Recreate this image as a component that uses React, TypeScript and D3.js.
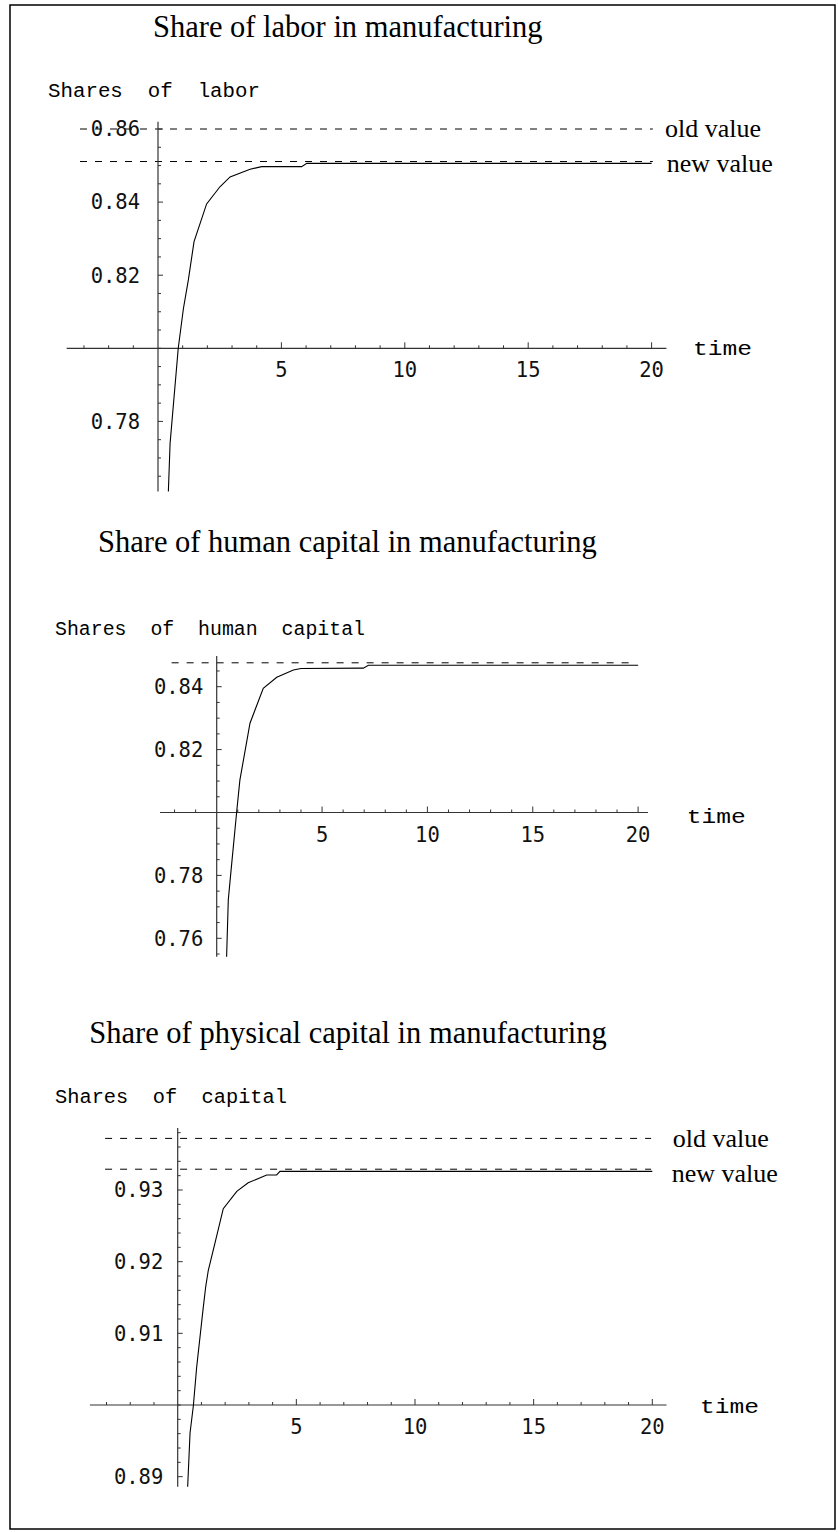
import React from 'react';
import * as d3 from 'd3';

const W = 838;
const H = 1532;

// ---------- Data: share of labor ----------
const laborTime = [0.42, 0.49, 0.82, 1.03, 1.23, 1.46, 1.97, 2.51, 2.92, 3.73, 4.2, 5.82, 6.03, 20];
const laborShare = [0.7608, 0.774, 0.8, 0.8109, 0.8187, 0.8292, 0.8395, 0.8442, 0.8469, 0.849, 0.8497, 0.8497, 0.8506, 0.8506];
const laborOld = 0.86;
const laborNew = 0.8511;
const laborYTicks = [0.78, 0.82, 0.84, 0.86];

// ---------- Data: share of human capital ----------
const humanTime = [0.47, 0.55, 0.66, 0.95, 1.1, 1.58, 2.21, 2.85, 3.64, 4.0, 6.96, 7.2, 20];
const humanShare = [0.7541, 0.7722, 0.7801, 0.8003, 0.8103, 0.8284, 0.8395, 0.843, 0.8453, 0.8458, 0.8459, 0.8468, 0.8468];
const humanNew = 0.8476;
const humanYTicks = [0.76, 0.78, 0.82, 0.84];

// ---------- Data: share of physical capital ----------
const capitalTime = [0.42, 0.52, 0.66, 0.8, 1.08, 1.18, 1.29, 1.57, 1.92, 2.49, 2.97, 3.75, 4.17, 4.31, 20];
const capitalShare = [0.8886, 0.8961, 0.8999, 0.9053, 0.9137, 0.9165, 0.9188, 0.9226, 0.9274, 0.9298, 0.931, 0.9321, 0.9321, 0.9326, 0.9326];
const capitalOld = 0.9372;
const capitalNew = 0.9329;
const capitalYTicks = [0.89, 0.91, 0.92, 0.93];

const xTickLabels = [5, 10, 15, 20];

type Cfg = {
  title: string;
  titleX: number;
  titleY: number;
  yLabel: string;
  yLabelX: number;
  yLabelY: number;
  yLabelW: number;
  timeX: number;
  timeY: number;
  xRange: [number, number];
  yDomain: [number, number];
  yRange: [number, number];
  xExtent: [number, number];
  yExtent: [number, number];
  yMinorStep: number;
  yMajor: number[];
  yLabelGap: number;
  times: number[];
  values: number[];
  refs: { v: number; label?: string; lx?: number; ly?: number }[];
  dashFrom: number;
  dashTo: number;
};

const SERIF = '"Liberation Serif", "Times New Roman", serif';
const MONO = '"Liberation Mono", "Courier New", monospace';
const NUM = '"DejaVu Sans Mono", monospace';

function Panel({ c }: { c: Cfg }) {
  const x = d3.scaleLinear().domain([0, 20]).range(c.xRange);
  const y = d3.scaleLinear().domain(c.yDomain).range(c.yRange);
  const axisY = y(c.yDomain[0]);
  const line = d3
    .line<number>()
    .x((_, i) => x(c.times[i]))
    .y((d) => y(d));

  const xMinor = d3.range(Math.ceil(c.xExtent[0]), 21).filter((t) => t !== 0);
  const nMin = Math.ceil(c.yExtent[0] / c.yMinorStep - 1e-6);
  const nMax = Math.floor(c.yExtent[1] / c.yMinorStep + 1e-6);
  const yMinor = d3.range(nMin, nMax + 1).map((k) => k * c.yMinorStep);

  return (
    <g>
      <text x={c.titleX} y={c.titleY} fontFamily={SERIF} fontSize={30.5} fill="#000">
        {c.title}
      </text>
      <text
        x={c.yLabelX}
        y={c.yLabelY}
        fontFamily={MONO}
        fontSize={20}
        textLength={c.yLabelW}
        lengthAdjust="spacingAndGlyphs"
        style={{ whiteSpace: 'pre' }}
        fill="#000"
      >
        {c.yLabel}
      </text>
      {/* reference dashed lines */}
      {c.refs.map((r, i) => (
        <g key={'r' + i}>
          <line
            x1={x(c.dashFrom)}
            x2={x(c.dashTo)}
            y1={y(r.v)}
            y2={y(r.v)}
            stroke="#000"
            strokeWidth={1}
            strokeDasharray="7,8"
          />
          {r.label && (
            <text x={r.lx} y={r.ly} fontFamily={SERIF} fontSize={26} fill="#000">
              {r.label}
            </text>
          )}
        </g>
      ))}
      {/* x axis */}
      <line x1={x(c.xExtent[0])} x2={x(c.xExtent[1])} y1={axisY} y2={axisY} stroke="#333" strokeWidth={1.2} />
      {xMinor.map((t) => (
        <line
          key={'xt' + t}
          x1={x(t)}
          x2={x(t)}
          y1={axisY}
          y2={axisY - (t % 5 === 0 ? 6 : 3)}
          stroke="#333"
          strokeWidth={1}
        />
      ))}
      {xTickLabels.map((t) => (
        <text key={'xl' + t} x={x(t)} y={axisY + 29} textAnchor="middle" fontFamily={NUM} fontSize={20.5} fill="#111">
          {t}
        </text>
      ))}
      <text
        x={c.timeX}
        y={c.timeY}
        fontFamily={MONO}
        fontSize={20}
        textLength={59}
        lengthAdjust="spacingAndGlyphs"
        fill="#000"
      >
        time
      </text>
      {/* y axis */}
      <line x1={x(0)} x2={x(0)} y1={y(c.yExtent[0])} y2={y(c.yExtent[1])} stroke="#333" strokeWidth={1.2} />
      {yMinor.map((v, i) => {
        const major = c.yMajor.some((m) => Math.abs(m - v) < 1e-6);
        return (
          <line
            key={'yt' + i}
            x1={x(0)}
            x2={x(0) + (major ? 5 : 3)}
            y1={y(v)}
            y2={y(v)}
            stroke="#333"
            strokeWidth={1}
          />
        );
      })}
      {c.yMajor.map((v) => (
        <text
          key={'yl' + v}
          x={x(0) - c.yLabelGap}
          y={y(v)}
          dy="0.36em"
          textAnchor="end"
          fontFamily={NUM}
          fontSize={20.5}
          fill="#111"
        >
          {v.toFixed(2)}
        </text>
      ))}
      {/* curve */}
      <path d={line(c.values) || ''} fill="none" stroke="#000" strokeWidth={1.1} />
    </g>
  );
}

const charts: Cfg[] = [
  {
    title: 'Share of labor in manufacturing',
    titleX: 153,
    titleY: 37,
    yLabel: 'Shares  of  labor',
    yLabelX: 48,
    yLabelY: 97,
    yLabelW: 212,
    timeX: 693,
    timeY: 355,
    xRange: [158, 651.6],
    yDomain: [0.8, 0.86],
    yRange: [348.3, 129],
    xExtent: [-3.7, 20.6],
    yExtent: [0.7608, 0.862],
    yMinorStep: 0.005,
    yMajor: laborYTicks,
    yLabelGap: 18,
    times: laborTime,
    values: laborShare,
    refs: [
      { v: laborOld, label: 'old value', lx: 665, ly: 136.7 },
      { v: laborNew, label: 'new value', lx: 666.7, ly: 171.7 },
    ],
    dashFrom: -3.16,
    dashTo: 20.05,
  },
  {
    title: 'Share of human capital in manufacturing',
    titleX: 98,
    titleY: 552,
    yLabel: 'Shares  of  human  capital',
    yLabelX: 55,
    yLabelY: 635,
    yLabelW: 310,
    timeX: 686.7,
    timeY: 823,
    xRange: [216.7, 638.1],
    yDomain: [0.8, 0.84],
    yRange: [812.5, 686.7],
    xExtent: [-2.69, 20.47],
    yExtent: [0.7541, 0.8498],
    yMinorStep: 0.005,
    yMajor: humanYTicks,
    yLabelGap: 13.4,
    times: humanTime,
    values: humanShare,
    refs: [{ v: humanNew }],
    dashFrom: -2.14,
    dashTo: 19.93,
  },
  {
    title: 'Share of physical capital in manufacturing',
    titleX: 89.3,
    titleY: 1043.3,
    yLabel: 'Shares  of  capital',
    yLabelX: 55,
    yLabelY: 1103.3,
    yLabelW: 232,
    timeX: 700,
    timeY: 1413,
    xRange: [177.7, 652.3],
    yDomain: [0.9, 0.93],
    yRange: [1405, 1190],
    xExtent: [-3.7, 20.6],
    yExtent: [0.8886, 0.93865],
    yMinorStep: 0.002,
    yMajor: capitalYTicks,
    yLabelGap: 14.4,
    times: capitalTime,
    values: capitalShare,
    refs: [
      { v: capitalOld, label: 'old value', lx: 672.7, ly: 1147.3 },
      { v: capitalNew, label: 'new value', lx: 671.7, ly: 1181.7 },
    ],
    dashFrom: -3.06,
    dashTo: 19.95,
  },
];

export default function App() {
  return (
    <svg
      width={W}
      height={H}
      viewBox={`0 0 ${W} ${H}`}
      style={{ position: 'absolute', left: 0, top: 0, background: '#fff' }}
    >
      <rect x={0} y={0} width={W} height={H} fill="#fff" />
      <rect x={10} y={5} width={825} height={1524} fill="none" stroke="#000" strokeWidth={1.5} />
      {charts.map((c, i) => (
        <Panel key={i} c={c} />
      ))}
    </svg>
  );
}
